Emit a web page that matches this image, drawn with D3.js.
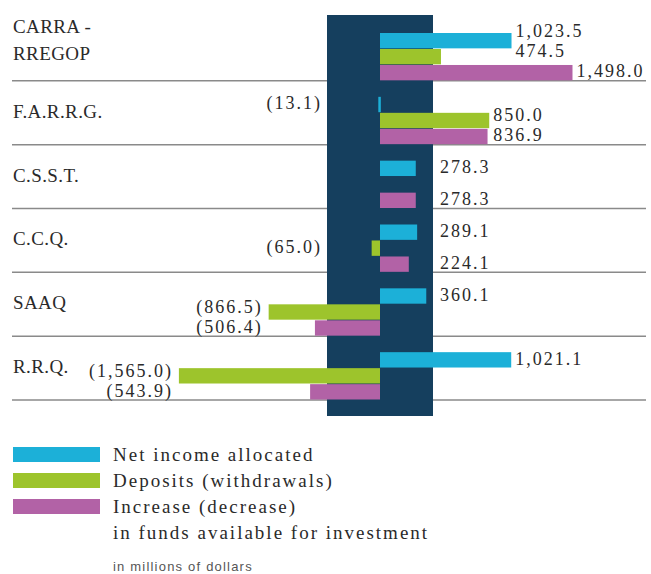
<!DOCTYPE html>
<html>
<head>
<meta charset="utf-8">
<script src="https://cdn.jsdelivr.net/npm/d3@7"></script>
<style>
  body { margin: 0; background: #fff; }
  svg { display: block; }
</style>
</head>
<body>
<div id="chart"></div>
<script>
// fund names (multi-line labels as arrays)
const categories = [
  ["CARRA -", "RREGOP"],
  ["F.A.R.R.G."],
  ["C.S.S.T."],
  ["C.C.Q."],
  ["SAAQ"],
  ["R.R.Q."],
];
// in millions of dollars, null = no bar
const netIncome = [1023.5, -13.1, 278.3, 289.1, 360.1, 1021.1];
const deposits = [474.5, 850.0, null, -65.0, -866.5, -1565.0];
const increase = [1498.0, 836.9, 278.3, 224.1, -506.4, -543.9];

const seriesNames = [
  ["Net income allocated"],
  ["Deposits (withdrawals)"],
  ["Increase (decrease)", "in funds available for investment"],
];
const unitNote = "in millions of dollars";

class DivergingBarChart {
  constructor(_config) {
    this.config = {
      parentElement: _config.parentElement,
      containerWidth: _config.containerWidth || 651,
      containerHeight: _config.containerHeight || 574,
      colors: ["#1cb0d8", "#9dc42c", "#b262a6"],
      bandColor: "#153f5e",
      textColor: "#2a2a2a",
      serif: "Liberation Serif",
      sans: "Liberation Sans",
      labelPitch: 20, // min vertical gap between stacked value labels
    };
    this.initVis();
  }

  initVis() {
    let vis = this;

    vis.svg = d3
      .select(vis.config.parentElement)
      .append("svg")
      .attr("width", vis.config.containerWidth)
      .attr("height", vis.config.containerHeight);

    // rows, with separator line at the bottom of each row
    vis.y = d3
      .scaleBand()
      .domain(d3.range(categories.length))
      .range([17, 400]);

    // bar slots inside a row
    vis.slot = d3
      .scaleBand()
      .domain([0, 1, 2])
      .range([16, vis.y.bandwidth() - 0.5])
      .paddingInner(0.04);

    // roughly 0.1285 px per million
    vis.x = d3.scaleLinear().domain([-1600, 1600]).range([174.4, 585.6]);

    vis.series = [netIncome, deposits, increase];

    this.updateVis();
  }

  updateVis() {
    let vis = this;
    const zero = vis.x(0);
    const bandLeft = 327;
    const bandRight = 433;

    // separator lines
    vis.svg
      .append("g")
      .selectAll("line")
      .data(categories)
      .join("line")
      .attr("x1", 12)
      .attr("x2", 646)
      .attr("y1", (d, i) => vis.y(i) + vis.y.step())
      .attr("y2", (d, i) => vis.y(i) + vis.y.step())
      .attr("stroke", "#8a8a8a")
      .attr("stroke-width", 1.5);

    // dark vertical band behind the zero line
    vis.svg
      .append("rect")
      .attr("x", bandLeft)
      .attr("y", 15)
      .attr("width", bandRight - bandLeft)
      .attr("height", 401)
      .attr("fill", vis.config.bandColor);

    const barY = (row, k) => vis.y(row) + vis.slot(k);

    // flatten into bar records
    let bars = [];
    categories.forEach((c, i) => {
      let maxPos = zero;
      let minNeg = zero;
      let rowBars = [];
      vis.series.forEach((s, k) => {
        const v = s[i];
        if (v === null) return;
        const end = vis.x(v);
        if (v >= 0) maxPos = Math.max(maxPos, end);
        else minNeg = Math.min(minNeg, end);
        rowBars.push({
          row: i,
          k: k,
          value: v,
          // label sits past the furthest bar so far in the row, or past the band
          labelX: v >= 0
            ? Math.max(bandRight + 7, maxPos + 4)
            : Math.min(bandLeft - 5, minNeg - 6),
          labelY: barY(i, k) + vis.slot.bandwidth() - 3,
        });
      });
      // push stacked labels upward so they don't collide (bottom to top)
      for (let a = rowBars.length - 2; a >= 0; a--) {
        for (let b = a + 1; b < rowBars.length; b++) {
          if ((rowBars[a].value >= 0) !== (rowBars[b].value >= 0)) continue;
          rowBars[a].labelY = Math.min(
            rowBars[a].labelY,
            rowBars[b].labelY - vis.config.labelPitch
          );
          break;
        }
      }
      bars = bars.concat(rowBars);
    });

    vis.svg
      .append("g")
      .selectAll("rect")
      .data(bars)
      .join("rect")
      .attr("x", (d) => Math.min(vis.x(d.value), zero))
      .attr("y", (d) => barY(d.row, d.k))
      .attr("width", (d) => Math.max(Math.abs(vis.x(d.value) - zero), 2.5))
      .attr("height", vis.slot.bandwidth())
      .attr("fill", (d) => vis.config.colors[d.k]);

    const fmt = d3.format(",.1f");
    vis.svg
      .append("g")
      .selectAll("text")
      .data(bars)
      .join("text")
      .attr("x", (d) => d.labelX)
      .attr("y", (d) => d.labelY)
      .attr("text-anchor", (d) => (d.value >= 0 ? "start" : "end"))
      .attr("font-family", vis.config.serif)
      .attr("font-size", 18)
      .attr("letter-spacing", "2px")
      .attr("fill", vis.config.textColor)
      .text((d) => (d.value >= 0 ? fmt(d.value) : `(${fmt(-d.value)})`));

    // fund names on the left
    const names = vis.svg
      .append("g")
      .selectAll("text")
      .data(categories)
      .join("text")
      .attr("x", 13)
      .attr("font-family", vis.config.serif)
      .attr("font-size", 19)
      .attr("letter-spacing", "0.4px")
      .attr("fill", vis.config.textColor);
    names
      .selectAll("tspan")
      .data((d, i) =>
        d.map((t, j) => ({
          t,
          y: d.length > 1
            ? vis.y(i) + vis.y.step() - 21 - (d.length - 1 - j) * 27
            : vis.y(i) + vis.y.step() - 27,
        }))
      )
      .join("tspan")
      .attr("x", 13)
      .attr("y", (d) => d.y)
      .text((d) => d.t);

    this.addLegend();
  }

  addLegend() {
    let vis = this;
    const legend = vis.svg.append("g").attr("transform", "translate(13, 447)");
    const pitch = 26;

    legend
      .selectAll("rect")
      .data(seriesNames)
      .join("rect")
      .attr("x", 0)
      .attr("y", (d, i) => i * pitch)
      .attr("width", 87)
      .attr("height", 15)
      .attr("fill", (d, i) => vis.config.colors[i]);

    let lineNo = 0;
    const lines = [];
    seriesNames.forEach((s) => s.forEach((t) => lines.push({ t, n: lineNo++ })));

    legend
      .selectAll("text")
      .data(lines)
      .join("text")
      .attr("x", 100)
      .attr("y", (d) => 14 + d.n * pitch)
      .attr("font-family", vis.config.serif)
      .attr("font-size", 19)
      .attr("letter-spacing", "2px")
      .attr("fill", vis.config.textColor)
      .text((d) => d.t);

    vis.svg
      .append("text")
      .attr("x", 113)
      .attr("y", 571)
      .attr("font-family", vis.config.sans)
      .attr("font-size", 13)
      .attr("letter-spacing", "1.2px")
      .attr("fill", "#555")
      .text(unitNote);
  }
}

new DivergingBarChart({ parentElement: "#chart" });
</script>
</body>
</html>
